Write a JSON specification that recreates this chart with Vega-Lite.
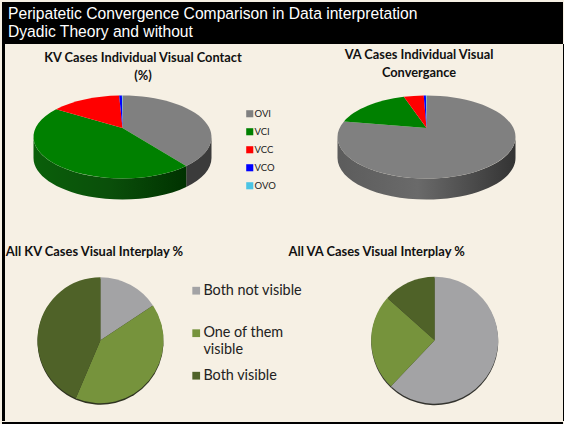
{
"$schema":"https://vega.github.io/schema/vega-lite/v6.json",
"background":"#f6f0e4",
"padding":{"left":2,"top":2,"right":0,"bottom":0},
"spacing":0,
"resolve":{"scale":{"color":"independent"}},
"datasets":{
"slices":[
{"pie":"KV individual","series":"OVI","value":37.3},
{"pie":"KV individual","series":"VCI","value":49.3},
{"pie":"KV individual","series":"VCC","value":12.8},
{"pie":"KV individual","series":"VCO","value":0.5},
{"pie":"KV individual","series":"OVO","value":0.1},
{"pie":"VA individual","series":"OVI","value":81.1},
{"pie":"VA individual","series":"VCI","value":14.8},
{"pie":"VA individual","series":"VCC","value":3.6},
{"pie":"VA individual","series":"VCO","value":0.4},
{"pie":"VA individual","series":"OVO","value":0.1},
{"pie":"KV interplay","series":"Both not visible","value":15.7},
{"pie":"KV interplay","series":"One of them visible","value":40.7},
{"pie":"KV interplay","series":"Both visible","value":43.6},
{"pie":"VA interplay","series":"Both not visible","value":62.1},
{"pie":"VA interplay","series":"One of them visible","value":24.5},
{"pie":"VA interplay","series":"Both visible","value":13.4}
],
"frame":[{"part":"frame"}]
},
"vconcat":[
{"width":561,"height":42,"data":{"name":"frame"},
 "title":{"text":["Peripatetic Convergence Comparison in Data interpretation","Dyadic Theory and without"],"orient":"top","anchor":"start","offset":-39,"dx":6,"font":"Liberation Sans","fontSize":15.65,"fontWeight":"normal","color":"white","lineHeight":18,"baseline":"top"},
 "mark":{"type":"rect","color":"black"},"encoding":{}},
{"resolve":{"scale":{"color":"independent"}},"hconcat":[
 {"width":3,"height":377,"data":{"name":"frame"},"mark":{"type":"rect","color":"black"},"encoding":{}},
 {"resolve":{"scale":{"color":"independent"}},"vconcat":[
  {"resolve":{"scale":{"color":"independent"}},"hconcat":[
   {"width":235,"height":168,"data":{"name":"slices"},
    "title":{"text":["KV Cases Individual Visual Contact","(%)"],"orient":"top","anchor":"middle","dx":20.5,"offset":-38.5,"font":"Lato","fontSize":12.8,"fontWeight":"bold","color":"#111111","lineHeight":18},
    "transform":[
     {"filter":"datum.pie=='KV individual'"},
     {"stack":"value","groupby":["pie"],"offset":"normalize","as":["v0","v1"]},
     {"calculate":"datum.v0*2*PI","as":"a0"},
     {"calculate":"datum.v1*2*PI","as":"a1"},
     {"calculate":"'M0,0L'+round(8900*sin(datum.a0))/100+','+round(900-4150*cos(datum.a0))/100+'A89,41.5 0 '+(datum.a1-datum.a0>PI?1:0)+' 1 '+round(8900*sin(datum.a1))/100+','+round(900-4150*cos(datum.a1))/100+'Z'","as":"topPath"},
     {"calculate":"max(datum.a0,PI/2)","as":"lo"},
     {"calculate":"min(datum.a1,3*PI/2)","as":"hi"},
     {"calculate":"datum.hi>datum.lo?'M'+round(8900*sin(datum.lo))/100+','+round(900-4150*cos(datum.lo))/100+'A89,41.5 0 0 1 '+round(8900*sin(datum.hi))/100+','+round(900-4150*cos(datum.hi))/100+'L'+round(8900*sin(datum.hi))/100+','+round(3000-4150*cos(datum.hi))/100+'A89,41.5 0 0 0 '+round(8900*sin(datum.lo))/100+','+round(3000-4150*cos(datum.lo))/100+'Z':'M0,0Z'","as":"sidePath"}
    ],
    "layer":[
     {"transform":[{"filter":"datum.series=='OVI'"}],
      "mark":{"type":"point","filled":true,"opacity":1,"size":4,"fill":"#3b3b3b","strokeWidth":0},
      "encoding":{"shape":{"field":"sidePath","type":"nominal","scale":null}}},
     {"transform":[{"filter":"datum.series=='VCI'"}],
      "mark":{"type":"point","filled":true,"opacity":1,"size":4,"strokeWidth":0,"fill":{"gradient":"linear","x1":0,"y1":0,"x2":1,"y2":0,"stops":[{"offset":0,"color":"#0a5f0a"},{"offset":0.5,"color":"#0a4f0a"},{"offset":1,"color":"#003200"}]}},
      "encoding":{"shape":{"field":"sidePath","type":"nominal","scale":null}}},
     {"mark":{"type":"point","filled":true,"opacity":1,"size":4,"strokeWidth":0},
      "encoding":{
       "shape":{"field":"topPath","type":"nominal","scale":null},
       "color":{"field":"series","type":"nominal",
        "scale":{"domain":["OVI","VCI","VCC","VCO","OVO"],"range":["#808080","#008000","#ff0000","#0000ff","#4bc4e4"]},
        "legend":{"title":null,"orient":"none","legendX":240,"legendY":65,"symbolType":"square","symbolSize":50,"symbolOpacity":1,"symbolStrokeWidth":0,"labelFont":"Lato","labelFontSize":9.5,"labelColor":"#222222","rowPadding":7,"labelOffset":0}}}}
    ]},
   {"width":273,"height":168,"data":{"name":"slices"},
    "title":{"text":["VA Cases Individual Visual","Convergance"],"orient":"top","anchor":"middle","dx":-7.5,"offset":-36,"font":"Lato","fontSize":12.8,"fontWeight":"bold","color":"#111111","lineHeight":18},
    "transform":[
     {"filter":"datum.pie=='VA individual'"},
     {"stack":"value","groupby":["pie"],"offset":"normalize","as":["v0","v1"]},
     {"calculate":"datum.v0*2*PI","as":"a0"},
     {"calculate":"datum.v1*2*PI","as":"a1"},
     {"calculate":"'M0,0L'+round(8900*sin(datum.a0))/100+','+round(900-4150*cos(datum.a0))/100+'A89,41.5 0 '+(datum.a1-datum.a0>PI?1:0)+' 1 '+round(8900*sin(datum.a1))/100+','+round(900-4150*cos(datum.a1))/100+'Z'","as":"topPath"},
     {"calculate":"max(datum.a0,PI/2)","as":"lo"},
     {"calculate":"min(datum.a1,3*PI/2)","as":"hi"},
     {"calculate":"datum.hi>datum.lo?'M'+round(8900*sin(datum.lo))/100+','+round(900-4150*cos(datum.lo))/100+'A89,41.5 0 0 1 '+round(8900*sin(datum.hi))/100+','+round(900-4150*cos(datum.hi))/100+'L'+round(8900*sin(datum.hi))/100+','+round(3000-4150*cos(datum.hi))/100+'A89,41.5 0 0 0 '+round(8900*sin(datum.lo))/100+','+round(3000-4150*cos(datum.lo))/100+'Z':'M0,0Z'","as":"sidePath"}
    ],
    "layer":[
     {"transform":[{"filter":"datum.series=='OVI'"}],
      "mark":{"type":"point","filled":true,"opacity":1,"size":4,"strokeWidth":0,"fill":{"gradient":"linear","x1":0,"y1":0,"x2":1,"y2":0,"stops":[{"offset":0,"color":"#5c5c5c"},{"offset":0.45,"color":"#6a6a6a"},{"offset":1,"color":"#333333"}]}},
      "encoding":{"shape":{"field":"sidePath","type":"nominal","scale":null}}},
     {"mark":{"type":"point","filled":true,"opacity":1,"size":4,"strokeWidth":0},
      "encoding":{
       "shape":{"field":"topPath","type":"nominal","scale":null},
       "color":{"field":"series","type":"nominal",
        "scale":{"domain":["OVI","VCI","VCC","VCO","OVO"],"range":["#808080","#008000","#ff0000","#0000ff","#4bc4e4"]},
        "legend":null}}}
    ]}
  ],"spacing":14},
  {"resolve":{"scale":{"color":"independent"}},"hconcat":[
   {"width":191,"height":163.4,"data":{"name":"slices"},
    "title":{"text":"All KV Cases Visual Interplay %","orient":"top","anchor":"middle","dx":-6,"offset":0,"font":"Lato","fontSize":12.9,"fontWeight":"bold","color":"#111111"},
    "transform":[
     {"filter":"datum.pie=='KV interplay'"},
     {"stack":"value","groupby":["pie"],"offset":"normalize","as":["v0","v1"]}
    ],
    "layer":[
     {"mark":{"type":"arc","outerRadius":63,"yOffset":1.5,"color":"#2e3320"},
      "encoding":{"theta":{"field":"v0","type":"quantitative","scale":{"domain":[0,1]}},"theta2":{"field":"v1"}}},
     {"mark":{"type":"arc","outerRadius":63},
      "encoding":{"theta":{"field":"v0","type":"quantitative","scale":{"domain":[0,1]}},"theta2":{"field":"v1"},
       "color":{"field":"series","type":"nominal",
        "scale":{"domain":["Both not visible","One of them visible","Both visible"],"range":["#a3a3a5","#76933c","#4f6228"]},
        "legend":{"title":null,"orient":"none","legendX":184,"legendY":25,"symbolType":"square","symbolSize":60,"symbolOpacity":1,"symbolStrokeWidth":0,"labelFont":"Lato","labelFontSize":14.4,"labelColor":"#222222","gridAlign":"all","rowPadding":11.5,"labelOffset":0,"labelLimit":200,"labelExpr":"datum.label=='One of them visible'?['One of them','visible']:datum.label","encoding":{"labels":{"update":{"lineHeight":{"value":19}}}}}}}}
    ]},
   {"width":255.4,"height":163.4,"data":{"name":"slices"},
    "title":{"text":"All VA Cases Visual Interplay %","orient":"top","anchor":"middle","dx":-58,"offset":0,"font":"Lato","fontSize":12.9,"fontWeight":"bold","color":"#111111"},
    "transform":[
     {"filter":"datum.pie=='VA interplay'"},
     {"stack":"value","groupby":["pie"],"offset":"normalize","as":["v0","v1"]}
    ],
    "layer":[
     {"mark":{"type":"arc","outerRadius":63.5,"yOffset":1.5,"color":"#33332e"},
      "encoding":{"theta":{"field":"v0","type":"quantitative","scale":{"domain":[0,1]}},"theta2":{"field":"v1"}}},
     {"mark":{"type":"arc","outerRadius":63.5},
      "encoding":{"theta":{"field":"v0","type":"quantitative","scale":{"domain":[0,1]}},"theta2":{"field":"v1"},
       "color":{"field":"series","type":"nominal",
        "scale":{"domain":["Both not visible","One of them visible","Both visible"],"range":["#a3a3a5","#76933c","#4f6228"]},
        "legend":null}}}
    ]}
  ],"spacing":-16}
 ],"spacing":33.5},
 {"width":2,"height":377,"data":{"name":"frame"},"mark":{"type":"rect","color":"black"},"encoding":{}}
],"spacing":0},
{"width":561,"height":3,"data":{"name":"frame"},"mark":{"type":"rect","color":"black"},"encoding":{}}
],
"config":{"view":{"stroke":null},"axis":{"grid":false}}
}
